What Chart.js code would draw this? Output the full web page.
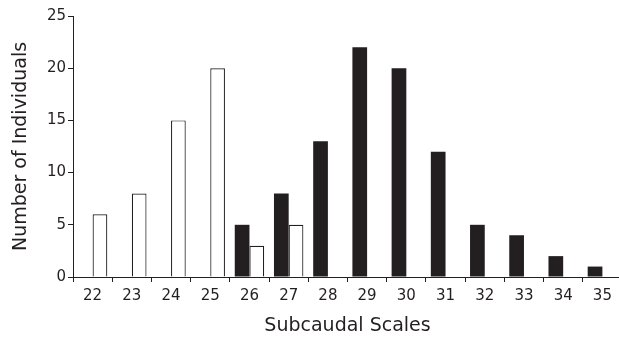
<!DOCTYPE html>
<html lang="en">
<head>
    <meta charset="UTF-8">
    <title>Subcaudal Scales</title>
    <script src="https://cdn.jsdelivr.net/npm/chart.js@4.4.0/dist/chart.umd.min.js"></script>
    <style>
        html, body {
            margin: 0;
            padding: 0;
            background: #ffffff;
            overflow: hidden;
        }
        #chartBox {
            position: absolute;
            left: 0;
            top: 0;
            width: 622px;
            height: 337px;
        }
    </style>
</head>
<body>
    <div id="chartBox">
        <canvas id="myChart" width="622" height="337"></canvas>
    </div>
    <script>
        // categories (number of subcaudal scales)
        const scales = ['22', '23', '24', '25', '26', '27', '28', '29', '30', '31', '32', '33', '34', '35'];
        // black bars
        const blackCounts = [null, null, null, null, 5, 8, 13, 22, 20, 12, 5, 4, 2, 1];
        // white bars
        const whiteCounts = [6, 8, 15, 20, 3, 5, null, null, null, null, null, null, null, null];
        const yTicks = [0, 5, 10, 15, 20, 25];

        const ink = '#231f20';
        const font = 'DejaVu Sans, Verdana, sans-serif';

        const ctx = document.getElementById('myChart').getContext('2d');
        const myChart = new Chart(ctx, {
            type: 'bar',
            data: {
                labels: scales,
                datasets: [
                    {
                        label: 'black',
                        data: blackCounts,
                        backgroundColor: ink,
                        borderWidth: 0,
                        categoryPercentage: 0.75,
                        barPercentage: 1.0
                    },
                    {
                        label: 'white',
                        data: whiteCounts,
                        backgroundColor: '#ffffff',
                        borderColor: ink,
                        borderWidth: 1.2,
                        categoryPercentage: 0.75,
                        barPercentage: 1.0
                    }
                ]
            },
            options: {
                responsive: false,
                animation: false,
                layout: {
                    padding: { top: 16, left: 0, right: 0, bottom: 0 }
                },
                plugins: {
                    legend: { display: false },
                    tooltip: { enabled: false }
                },
                scales: {
                    x: {
                        offset: true,
                        grid: {
                            offset: true,
                            drawOnChartArea: false,
                            drawTicks: true,
                            tickLength: 5,
                            color: ink,
                            lineWidth: 1
                        },
                        border: { display: true, color: ink, width: 1 },
                        ticks: {
                            color: ink,
                            font: { family: font, size: 15 },
                            padding: 5,
                            maxRotation: 0
                        },
                        title: {
                            display: true,
                            text: 'Subcaudal Scales',
                            color: ink,
                            font: { family: font, size: 19 },
                            padding: { top: 1, bottom: 0 }
                        },
                        afterFit: function (scale) {
                            scale.height = 60;
                        }
                    },
                    y: {
                        min: 0,
                        max: 25,
                        afterBuildTicks: function (scale) {
                            scale.ticks = yTicks.map(function (v) { return { value: v }; });
                        },
                        grid: {
                            drawOnChartArea: false,
                            drawTicks: true,
                            tickLength: 5,
                            color: ink,
                            lineWidth: 1
                        },
                        border: { display: true, color: ink, width: 1 },
                        ticks: {
                            color: ink,
                            font: { family: font, size: 15 },
                            padding: 2
                        },
                        title: {
                            display: true,
                            text: 'Number of Individuals',
                            color: ink,
                            font: { family: font, size: 19 },
                            padding: { top: 10, bottom: 0 }
                        },
                        afterFit: function (scale) {
                            scale.width = 73;
                        }
                    }
                }
            }
        });
    </script>
</body>
</html>
